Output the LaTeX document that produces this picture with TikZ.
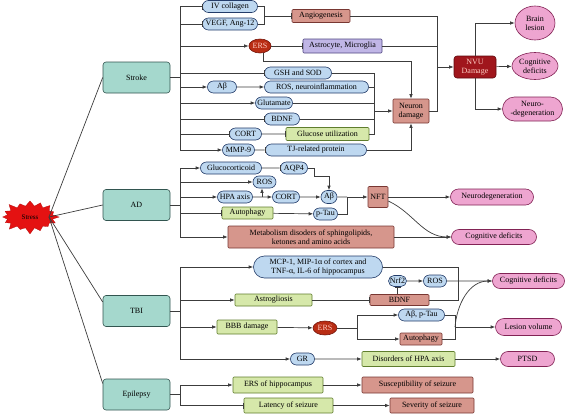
\documentclass[tikz,border=0pt]{standalone}
\usepackage{fontspec}
\setmainfont{Liberation Serif}
\usetikzlibrary{arrows.meta,shapes.misc,shapes.geometric,shapes.symbols,calc}
\definecolor{pillF}{RGB}{190,216,240}
\definecolor{pillD}{RGB}{35,60,105}
\definecolor{salF}{RGB}{214,150,140}
\definecolor{salD}{RGB}{120,55,50}
\definecolor{grnF}{RGB}{214,232,170}
\definecolor{grnD}{RGB}{95,125,45}
\definecolor{purF}{RGB}{192,182,230}
\definecolor{purD}{RGB}{80,70,130}
\definecolor{catF}{RGB}{165,216,205}
\definecolor{catD}{RGB}{50,85,80}
\definecolor{pnkF}{RGB}{238,165,208}
\definecolor{pnkD}{RGB}{130,35,85}
\definecolor{ersF}{RGB}{185,45,20}
\definecolor{ersD}{RGB}{115,20,10}
\definecolor{ersT}{RGB}{255,205,195}
\definecolor{nvuF}{RGB}{160,22,28}
\definecolor{nvuD}{RGB}{95,10,15}
\definecolor{strF}{RGB}{228,18,18}
\definecolor{lnC}{RGB}{60,60,60}
\newcommand\dfont{\fontsize{8}{9}\selectfont}
\begin{document}
\begin{tikzpicture}[x=1pt,y=-1pt,
 every node/.style={font=\dfont, align=center, inner sep=0.5pt, line width=0.6pt},
 sz/.style 2 args={minimum width=#1pt, minimum height=#2pt},
 pill/.style={draw=pillD, fill=pillF, rounded rectangle},
 salm/.style={draw=salD, fill=salF, rounded corners=1pt},
 grn/.style={draw=grnD, fill=grnF, rounded corners=1pt},
 purp/.style={draw=purD, fill=purF, rounded corners=1pt},
 cat/.style={draw=catD, fill=catF, rounded corners=3pt, minimum width=67pt, minimum height=31pt},
 pinkp/.style={draw=pnkD, fill=pnkF, rounded rectangle},
 pinke/.style={draw=pnkD, fill=pnkF, ellipse},
 erss/.style={draw=ersD, fill=ersF, ellipse, text=ersT},
 ln/.style={draw=lnC, line width=0.7pt},
 arr/.style={ln, -{Latex[length=4.5pt,width=3.6pt]}},
 bar/.style={ln, -{Bar[width=6pt]}},
]
\useasboundingbox (0,0) rectangle (566,415);

% categories
\node[starburst, fill=strF, draw=strF!80!black, line width=0.3pt, minimum width=60pt, minimum height=36pt, starburst points=16, starburst point height=7pt, font=\fontsize{7}{8}\selectfont] (stress) at (30,217) {Stress};
\node[cat] (stroke) at (136.5,77.5) {Stroke};
\node[cat] (ad) at (136.5,205) {AD};
\node[cat] (tbi) at (136.5,311) {TBI};
\node[cat] (epi) at (136.5,394.5) {Epilepsy};

\coordinate (sc) at (49,217);
\draw[ln] (sc) -- (stroke.west);
\draw[ln] (sc) -- (ad.west);
\draw[ln] (sc) -- ([yshift=9pt]tbi.west);
\draw[ln] (sc) -- ([yshift=11pt]epi.west);

% ---------- Stroke ----------
\node[pill, sz={56}{12}] (iv) at (230,6.5) {IV collagen};
\node[pill, sz={56}{12}] (vegf) at (230,24) {VEGF, Ang-12};
\node[salm, sz={58}{13}] (angio) at (321,16) {Angiogenesis};
\node[erss, sz={21}{14}] (ers1) at (260,46) {ERS};
\node[purp, sz={79}{14}] (astro) at (342.5,46) {Astrocyte, Microglia};
\node[pill, sz={68}{12}] (gsh) at (298,73) {GSH and SOD};
\node[pill, sz={30}{12}] (abs) at (222,87) {Aβ};
\node[pill, sz={105}{12}] (ros1) at (316.5,87) {ROS, neuroinflammation};
\node[pill, sz={38}{12}] (glu) at (274,103) {Glutamate};
\node[pill, sz={36}{12}] (bdnf1) at (282,119) {BDNF};
\node[pill, sz={33}{12}] (cort1) at (245.5,134) {CORT};
\node[grn, sz={83}{13}] (gluc) at (327.5,134) {Glucose utilization};
\node[pill, sz={33}{12}] (mmp) at (238.5,150) {MMP-9};
\node[pill, sz={102}{12}] (tj) at (316,150) {TJ-related protein};
\node[salm, sz={36}{24}] (neuron) at (411,111) {Neuron\\damage};
\node[draw=nvuD, fill=nvuF, text=ersT, rounded corners=3pt, sz={42}{22}] (nvu) at (475,67) {NVU\\Damage};
\node[pinke, sz={40}{34}] (brain) at (535,23) {Brain\\lesion};
\node[pinke, sz={41}{27}] (cog1) at (535,66) {Cognitive\\deficits};
\node[pinkp, sz={61}{24}] (neuro1) at (532.5,109) {Neuro-\\-degeneration};

\draw[bar] (stroke.east) -- ++(10,0) |- (iv);
\draw[bar] (stroke.east) -- ++(10,0) |- (vegf);
\draw[arr] (stroke.east) -- ++(10,0) |- (ers1);
\draw[bar] (stroke.east) -- ++(10,0) |- (gsh);
\draw[arr] (stroke.east) -- ++(10,0) |- (abs);
\draw[arr] (stroke.east) -- ++(10,0) |- (glu);
\draw[bar] (stroke.east) -- ++(10,0) |- (bdnf1);
\draw[bar] (stroke.east) -- ++(10,0) |- (cort1);
\draw[arr] (stroke.east) -- ++(10,0) |- (mmp);

\coordinate (jv) at (264,16);
\draw[ln] (iv.east) -| (jv);
\draw[ln] (vegf.east) -| (jv);
\draw[bar] (jv) -- (angio);
\draw[bar] (ers1) -- (astro);
\draw[arr] ([xshift=3pt]ers1.south) -- ++(0,8) -| (neuron.north);
\draw[arr] (abs) -- (ros1);
\draw[bar] (cort1) -- (gluc);
\draw[bar] (mmp) -- (tj);
\draw[arr] (tj.east) -| (neuron.south);
\coordinate (jc) at (374,111);
\draw[ln] (gsh.east) -| (jc);
\draw[ln] (ros1.east) -| (jc);
\draw[ln] (glu.east) -| (jc);
\draw[ln] (bdnf1.east) -| (jc);
\draw[ln] (gluc.east) -| (jc);
\draw[arr] (jc) -- (neuron);
\coordinate (jn) at (437,67);
\draw[ln] (angio.east) -| (jn);
\draw[ln] (astro.east) -| (jn);
\draw[ln] (neuron.east) -| (jn);
\draw[arr] (jn) -- (nvu);
\draw[arr] (nvu.north) |- (brain);
\draw[arr] (nvu) -- (cog1);
\draw[arr] (nvu.south) |- (neuro1);

% ---------- AD ----------
\node[pill, sz={62}{12}] (gluco) at (231,168) {Glucocorticoid};
\node[pill, sz={28}{12}] (aqp4) at (294,168) {AQP4};
\node[pill, sz={24}{12}] (ros2) at (264.5,182) {ROS};
\node[pill, sz={36}{12}] (hpa) at (235,197) {HPA axis};
\node[pill, sz={28}{12}] (cort2) at (286,197) {CORT};
\node[pill, sz={17}{13}] (ab2) at (329,197) {Aβ};
\node[grn, sz={51}{12}] (auto1) at (247.5,213) {Autophagy};
\node[pill, sz={25}{12}] (ptau) at (325.5,214) {p-Tau};
\node[salm, sz={20}{21}] (nft) at (378,197) {NFT};
\node[salm, sz={166}{22}] (metab) at (311,237) {Metabolism disoders of sphingolipids,\\ketones and amino acids};
\node[pinkp, sz={84}{16}] (neurodeg2) at (492,197) {Neurodegeneration};
\node[pinkp, sz={86}{15}] (cog2) at (494,237) {Cognitive deficits};

\draw[arr] (ad.east) -- ++(10,0) |- (gluco);
\draw[arr] (ad.east) -- ++(10,0) |- (ros2);
\draw[arr] (ad.east) -- ++(10,0) |- (hpa);
\draw[bar] (ad.east) -- ++(10,0) |- (auto1);
\draw[arr] (ad.east) -- ++(10,0) |- (metab);
\draw[bar] (gluco) -- (aqp4);
\draw[arr] (aqp4.east) -- ++(7,0) -- ++(0,8) -| (ab2.north);
\draw[arr] (hpa) -- (cort2);
\coordinate (hb) at (262,197);
\draw[arr] (hb) -- (hb |- ros2.south);
\draw[arr] (cort2) -- (ab2);
\draw[arr] (auto1) -- (ptau);
\coordinate (jab) at (347,197);
\draw[ln] (ab2) -- (jab);
\draw[ln] (ptau.east) -| (jab);
\draw[arr] (jab) -- (nft);
\draw[arr] (nft) -- (neurodeg2);
\draw[arr] ([yshift=-4pt]nft.east) to[out=-25,in=180] (cog2.west);
\draw[arr] (metab) -- (cog2);

% ---------- TBI ----------
\node[pill, sz={130}{22}] (mcp) at (318,267) {MCP-1, MIP-1α of cortex and\\TNF-α, IL-6 of hippocampus};
\node[pill, sz={19}{11}] (nrf2) at (397.5,281) {Nrf2};
\node[pill, sz={24}{12}] (ros3) at (435,281) {ROS};
\node[salm, sz={59}{11}] (bdnf2) at (399.5,300) {BDNF};
\node[grn, sz={77}{12}] (astro2) at (273.5,300) {Astrogliosis};
\node[grn, sz={60}{14}] (bbb) at (247,327) {BBB damage};
\node[erss, sz={24}{14}] (ers2) at (325,328) {ERS};
\node[pill, sz={47}{12}] (abpt) at (421.5,315) {Aβ, p-Tau};
\node[salm, sz={42}{12}] (auto2) at (421,339) {Autophagy};
\node[pinkp, sz={73}{15}] (cog3) at (528.5,281) {Cognitive deficits};
\node[pinkp, sz={67}{17}] (lesion) at (528.5,327) {Lesion volume};
\node[pill, sz={25}{12}] (gr) at (302.5,359) {GR};
\node[grn, sz={93}{15}] (dhpa) at (408.5,359) {Disorders of HPA axis};
\node[pinkp, sz={55}{15}] (ptsd) at (527.5,359) {PTSD};

\draw[arr] (tbi.east) -- ++(10,0) |- (mcp);
\draw[arr] (tbi.east) -- ++(10,0) |- (astro2);
\draw[arr] (tbi.east) -- ++(10,0) |- (bbb);
\draw[arr] (tbi.east) -- ++(10,0) |- (gr);
\draw[bar] (astro2) -- (bdnf2);
\draw[bar] (bdnf2.north -| nrf2.south) -- (nrf2.south);
\draw[arr] (nrf2) -- (ros3);
\draw[arr] (ros3) -- (cog3);
\coordinate (jm) at (458,281);
\draw[ln] (mcp.east) -| (jm);
\draw[ln] (bdnf2.east) -| (jm);
\draw[arr] (bbb) -- (ers2);
\coordinate (je) at (357,328);
\draw[ln] (ers2) -- (je);
\draw[arr] (je) |- (abpt);
\draw[arr] (je) |- (auto2);
\coordinate (jl) at (455,327);
\draw[ln] (abpt.east) -| (jl);
\draw[ln] (auto2.east) -| (jl);
\draw[arr] (jl) -- (lesion);
\draw[arr] (jl) to[out=85,in=180] (cog3.west);
\draw[arr] (gr) -- (dhpa);
\draw[arr] (dhpa) -- (ptsd);

% ---------- Epilepsy ----------
\node[grn, sz={90}{16}] (ersh) at (278,385) {ERS of hippocampus};
\node[salm, sz={111}{16}] (susc) at (417.5,385) {Susceptibility of seizure};
\node[grn, sz={89}{15}] (lat) at (288.5,405.5) {Latency of seizure};
\node[salm, sz={84}{15}] (sev) at (432,405.5) {Severity of seizure};

\draw[arr] (epi.east) -- ++(10,0) |- (ersh);
\draw[bar] (epi.east) -- ++(10,0) |- (lat);
\draw[arr] (ersh) -- (susc);
\draw[arr] (lat) -- (sev);
\end{tikzpicture}
\end{document}
